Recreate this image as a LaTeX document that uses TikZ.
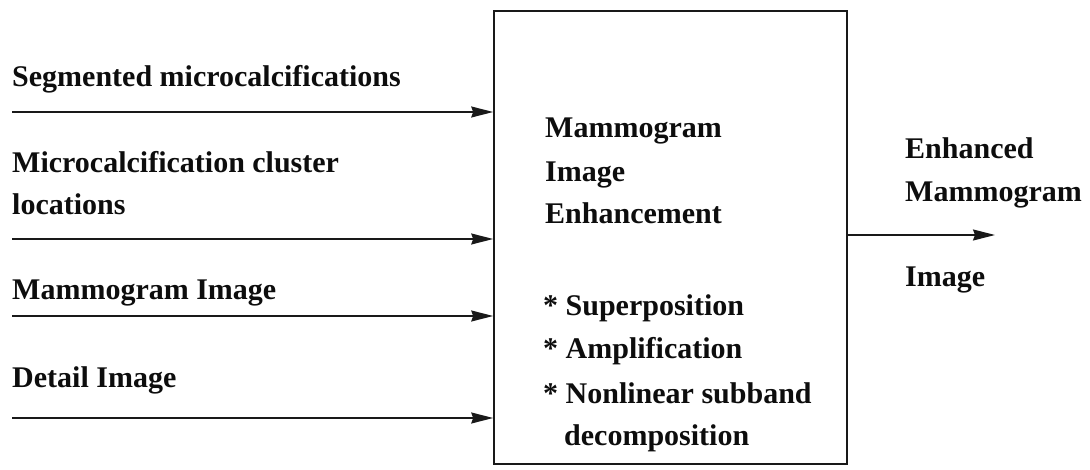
\documentclass[tikz,border=0pt]{standalone}
\usepackage{fontspec}
\setmainfont{Liberation Serif}
\usetikzlibrary{arrows.meta}
\begin{document}
\begin{tikzpicture}[x=1pt,y=-1pt,
  lbl/.style={anchor=base west,inner sep=0pt,font=\fontsize{30}{36}\selectfont\bfseries,text=black!95},
  arr/.style={draw=black!90,line width=1.6pt,-{Stealth[length=22pt,width=11pt,inset=2pt]}},
  block/.style={draw=black!90,line width=1.6pt,rectangle,inner sep=0pt}]
\useasboundingbox (0,0) rectangle (1090,470);

% central processing block
\node[block,minimum width=353pt,minimum height=453pt] (enh) at (670.5,237.5) {};

% input signal labels
\node[lbl] (t1) at (12,87) {Segmented microcalcifications};
\node[lbl] (t2a) at (12,173) {Microcalcification cluster};
\node[lbl] (t2b) at (12,215) {locations};
\node[lbl] (t3) at (12,300) {Mammogram Image};
\node[lbl] (t4) at (12,387) {Detail Image};

% input arrow tails
\coordinate (s1) at (12,112);
\coordinate (s2) at (12,239);
\coordinate (s3) at (12,316);
\coordinate (s4) at (12,418);
\draw[arr] (s1) -- (enh.west |- s1);
\draw[arr] (s2) -- (enh.west |- s2);
\draw[arr] (s3) -- (enh.west |- s3);
\draw[arr] (s4) -- (enh.west |- s4);

% block contents
\node[lbl] (b1) at (545,138) {Mammogram};
\node[lbl] (b2) at (545,182) {Image};
\node[lbl] (b3) at (545,224) {Enhancement};
\node[lbl] (b4) at (543,316) {* Superposition};
\node[lbl] (b5) at (543,359) {* Amplification};
\node[lbl] (b6) at (543,403) {* Nonlinear subband};
\node[lbl] (b7) at (564,445) {decomposition};

% output
\coordinate (out) at (995,235);
\draw[arr] (enh.east |- out) -- (out);
\node[lbl] (o1) at (905,159) {Enhanced};
\node[lbl] (o2) at (905,202) {Mammogram};
\node[lbl] (o3) at (905,287) {Image};
\end{tikzpicture}
\end{document}
